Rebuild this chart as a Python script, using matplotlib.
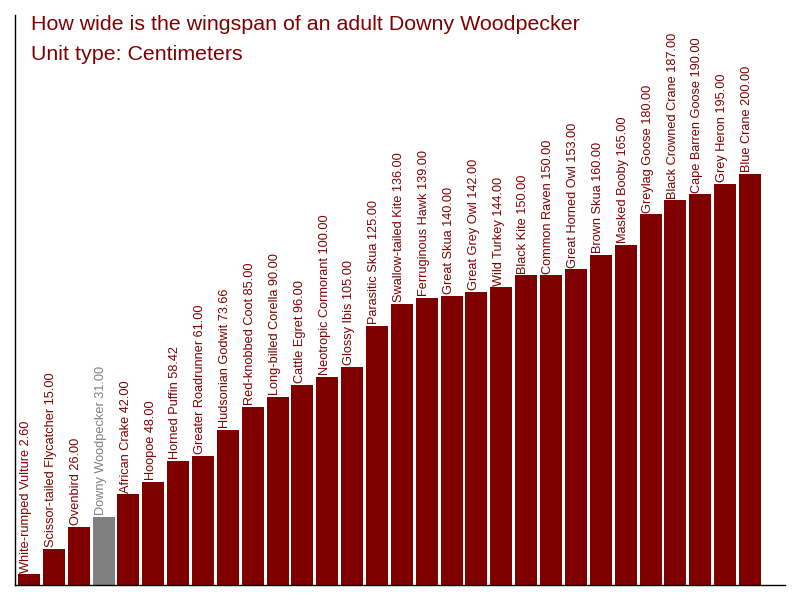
import matplotlib
matplotlib.use('Agg')
import matplotlib.pyplot as plt

plt.rcParams['font.family'] = ['Liberation Sans', 'DejaVu Sans']

birds = [
    'White-rumped Vulture', 'Scissor-tailed Flycatcher', 'Ovenbird',
    'Downy Woodpecker', 'African Crake', 'Hoopoe', 'Horned Puffin',
    'Greater Roadrunner', 'Hudsonian Godwit', 'Red-knobbed Coot',
    'Long-billed Corella', 'Cattle Egret', 'Neotropic Cormorant',
    'Glossy Ibis', 'Parasitic Skua', 'Swallow-tailed Kite',
    'Ferruginous Hawk', 'Great Skua', 'Great Grey Owl', 'Wild Turkey',
    'Black Kite', 'Common Raven', 'Great Horned Owl', 'Brown Skua',
    'Masked Booby', 'Greylag Goose', 'Black Crowned Crane',
    'Cape Barren Goose', 'Grey Heron', 'Blue Crane',
]
wingspan_cm = [
    2.60, 15.00, 26.00, 31.00, 42.00, 48.00, 58.42, 61.00, 73.66, 85.00,
    90.00, 96.00, 100.00, 105.00, 125.00, 136.00, 139.00, 140.00, 142.00,
    144.00, 150.00, 150.00, 153.00, 160.00, 165.00, 180.00, 187.00,
    190.00, 195.00, 200.00,
]
highlight = 'Downy Woodpecker'

RED = '#800000'
GREY = '#808080'
BAR_W = 0.885
Y0 = -2.76  # scale doesn't start at zero, bars grow from the axis line

fig = plt.figure(figsize=(8, 6), dpi=100)
ax = fig.add_axes([15 / 800, 15 / 600, 770 / 800, 570 / 600])

colors = [GREY if b == highlight else RED for b in birds]
xs = list(range(len(birds)))
ax.bar(xs, [v - Y0 for v in wingspan_cm], bottom=Y0, width=BAR_W, color=colors)

# labels sit on top of each bar, rotated, starting at the bar's left edge
for x, name, val, c in zip(xs, birds, wingspan_cm, colors):
    ax.text(x - BAR_W / 2 + 0.09, val + 0.8, f'{name} {val:.2f}',
            rotation=90, ha='left', va='bottom', color=c, fontsize=9.2)

ax.set_xlim(-0.563, 30.41)
ax.set_ylim(Y0, 278.4)
ax.set_xticks([])
ax.set_yticks([])
for s in ('top', 'right'):
    ax.spines[s].set_visible(False)
for s in ('left', 'bottom'):
    ax.spines[s].set_linewidth(1.0)
    ax.spines[s].set_color('black')

fig.text(31 / 800, 1 - 30 / 600, 'How wide is the wingspan of an adult Downy Woodpecker',
         color=RED, fontsize=15.4, va='baseline', ha='left')
fig.text(31 / 800, 1 - 60 / 600, 'Unit type: Centimeters',
         color=RED, fontsize=15.4, va='baseline', ha='left')

fig.savefig('out.png', dpi=100)
